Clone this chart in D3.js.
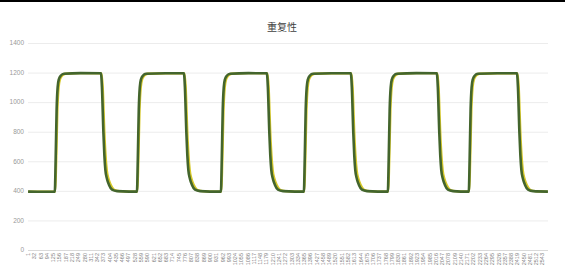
<!DOCTYPE html>
<html><head><meta charset="utf-8">
<script src="https://cdn.jsdelivr.net/npm/d3@7"></script>
<style>body{margin:0;background:#fff;}svg{display:block;}</style>
</head><body>
<script>
const title = "重复性";
const pointCount = 2570;
const yTicks = [0,200,400,600,800,1000,1200,1400];
const xTickLabels = [1,32,63,94,125,156,187,218,249,280,311,342,373,404,435,466,497,528,559,590,621,652,683,714,745,776,807,838,869,900,931,962,993,1024,1055,1086,1117,1148,1179,1210,1241,1272,1303,1334,1365,1396,1427,1458,1489,1520,1551,1582,1613,1644,1675,1706,1737,1768,1799,1830,1861,1892,1923,1954,1985,2016,2047,2078,2109,2140,2171,2202,2233,2264,2295,2326,2357,2388,2419,2450,2481,2512,2543];

// green series (key points): index, value
const greenX = [1,60,133,137,142,147,153,163,178,260,361,366,373,378,383,391,401,416,441,500,
 539,543,548,553,559,569,584,680,771,776,783,788,793,801,811,826,851,900,
 954,958,963,968,974,984,999,1090,1181,1186,1193,1198,1203,1211,1221,1236,1261,1320,
 1364,1368,1373,1378,1384,1394,1409,1500,1596,1601,1608,1613,1618,1626,1636,1651,1676,1730,
 1779,1783,1788,1793,1799,1809,1824,1920,2021,2026,2033,2038,2043,2051,2061,2076,2101,2140,
 2179,2183,2188,2193,2199,2209,2224,2320,2417,2422,2429,2434,2439,2447,2457,2472,2497,2570];
const greenY = [395,394,395,600,950,1100,1155,1180,1192,1196,1195,1100,800,640,540,480,440,408,398,395,
 395,600,950,1100,1155,1180,1192,1195,1195,1100,800,640,540,480,440,408,398,395,
 395,600,950,1100,1155,1180,1192,1196,1195,1100,800,640,540,480,440,408,398,395,
 395,600,950,1100,1155,1180,1192,1195,1195,1100,800,640,540,480,440,408,398,395,
 395,600,950,1100,1155,1180,1192,1196,1195,1100,800,640,540,480,440,408,398,395,
 395,600,950,1100,1155,1180,1192,1195,1195,1100,800,640,540,480,440,408,398,395];

// yellow series (slightly lagging)
const yellowX = [1,60,135,140,146,152,159,170,186,260,364,370,378,384,390,399,410,426,452,500,
 541,546,552,558,565,576,592,680,774,780,788,794,800,809,820,836,862,900,
 956,961,967,973,980,991,1007,1090,1184,1190,1198,1204,1210,1219,1230,1246,1272,1320,
 1366,1371,1377,1383,1390,1401,1417,1500,1599,1605,1613,1619,1625,1634,1645,1661,1687,1730,
 1781,1786,1792,1798,1805,1816,1832,1920,2024,2030,2038,2044,2050,2059,2070,2086,2112,2140,
 2181,2186,2192,2198,2205,2216,2232,2320,2420,2426,2434,2440,2446,2455,2466,2482,2508,2570];
const yellowY = greenY.slice();

const W = 565, H = 279;
const svg = d3.select("body").append("svg").attr("width", W).attr("height", H);
svg.append("rect").attr("width", W).attr("height", H).attr("fill", "#fff");
svg.append("rect").attr("width", W).attr("height", 2).attr("fill", "#000");

const x0 = 28, x1 = 548, yTop = 43, yBot = 250;
const x = d3.scaleLinear().domain([0.5, pointCount + 0.5]).range([x0, x1]);
const y = d3.scaleLinear().domain([0, 1400]).range([yBot, yTop]);

// gridlines
svg.append("g").selectAll("line").data(yTicks).join("line")
  .attr("x1", x0).attr("x2", x1)
  .attr("y1", d => y(d) + 0.5).attr("y2", d => y(d) + 0.5)
  .attr("stroke", d => d === 0 ? "#d9d9d9" : "#ececec").attr("stroke-width", 1);

// y labels
svg.append("g").selectAll("text").data(yTicks).join("text")
  .attr("x", 24).attr("y", d => y(d)).attr("dy", "0.35em")
  .attr("text-anchor", "end")
  .attr("font-family", "Liberation Sans, Arial, sans-serif")
  .attr("font-size", 6.5).attr("fill", "#999")
  .text(d => d);

// x labels (rotated)
svg.append("g").selectAll("text").data(xTickLabels).join("text")
  .attr("transform", d => `translate(${x(d) + 2},${253}) rotate(-90)`)
  .attr("text-anchor", "end")
  .attr("font-family", "Liberation Sans, Arial, sans-serif")
  .attr("font-size", 5.5).attr("fill", "#7f7f7f")
  .text(d => d);

// title
svg.append("text").attr("x", 282).attr("y", 31).attr("text-anchor", "middle")
  .attr("font-family", "Noto Sans CJK SC, sans-serif")
  .attr("font-size", 10).attr("fill", "#404040").text(title);

const line = d3.line().x(d => x(d[0])).y(d => y(d[1])).curve(d3.curveMonotoneX);
const yellowData = yellowX.map((v, i) => [v, yellowY[i]]);
const greenData = greenX.map((v, i) => [v, greenY[i]]);

svg.append("path").datum(yellowData).attr("d", line)
  .attr("fill", "none").attr("stroke", "#d6c82a").attr("stroke-width", 2.3);
svg.append("path").datum(greenData).attr("d", line)
  .attr("fill", "none").attr("stroke", "#43652d").attr("stroke-width", 2.6);
</script>
</body></html>
